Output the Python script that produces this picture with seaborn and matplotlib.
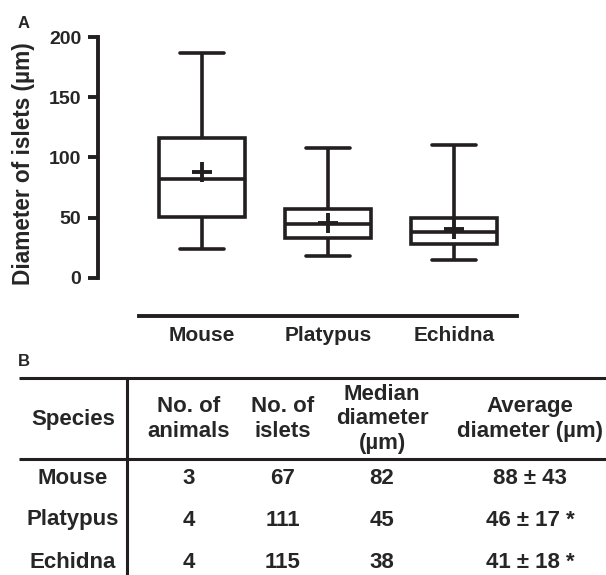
import pandas as pd
import matplotlib
matplotlib.use("Agg")
import matplotlib.pyplot as plt
import seaborn as sns

# values
species = ["Mouse", "Platypus", "Echidna"]
d_min = [24, 18, 15]
d_q1 = [51, 33, 28]
d_median = [82, 45, 38]
d_q3 = [116, 57, 50]
d_max = [187, 108, 110]
d_mean = [88, 46, 41]
d_sd = [43, 17, 18]
n_animals = [3, 4, 4]
n_islets = [67, 111, 115]
signif = ["", " *", " *"]

headers = ["Species", "No. of\nanimals", "No. of\nislets",
           "Median\ndiameter\n(µm)", "Average\ndiameter (µm)"]

sns.set_style("ticks")
plt.rcParams["font.family"] = ["Liberation Sans", "DejaVu Sans"]
plt.rcParams["font.weight"] = "bold"
ink = "#231f20"

# five values per species -> quartiles land exactly on the read values
rows = []
for i, sp in enumerate(species):
    for v in [d_min[i], d_q1[i], d_median[i], d_q3[i], d_max[i]]:
        rows.append({"species": sp, "diameter": v})
box_df = pd.DataFrame(rows)
mean_df = pd.DataFrame({"species": species, "mean": d_mean})

fig = plt.figure(figsize=(6.06, 5.75), dpi=100)
ax = fig.add_axes([139 / 606, 1 - 278 / 575, 378 / 606, 241 / 575])

sns.boxplot(data=box_df, x="species", y="diameter", order=species,
            whis=(0, 100), width=0.69, color="white", linecolor=ink,
            linewidth=2.6, fliersize=0, ax=ax)
sns.pointplot(data=mean_df, x="species", y="mean", order=species,
              color=ink, markers="+", linestyle="none",
              markersize=14, markeredgewidth=2.8, errorbar=None, ax=ax)

ax.set_xlim(-0.5, 2.5)
ax.set_ylim(0, 200)
ax.set_yticks([0, 50, 100, 150, 200])
ax.set_xlabel("")
ax.set_ylabel("Diameter of islets (µm)", fontsize=16.3, fontweight="bold")
ax.yaxis.set_label_coords(-0.275, 0.475)
sns.despine(ax=ax)
# spines pushed outward (points): 41 px left, 38 px down
ax.spines["left"].set_position(("outward", 29.5))
ax.spines["bottom"].set_position(("outward", 27.4))
for s in ["left", "bottom"]:
    ax.spines[s].set_linewidth(2.8)
    ax.spines[s].set_color(ink)
ax.tick_params(axis="y", length=7, width=2.8, pad=5, labelsize=14,
               color=ink)
ax.tick_params(axis="x", length=0, pad=7, labelsize=15)
for lab in ax.get_xticklabels() + ax.get_yticklabels():
    lab.set_fontweight("bold")

fig.text(24 / 606, 1 - 24 / 575, "A", ha="center", va="center",
         fontsize=12, fontweight="bold")
fig.text(24 / 606, 1 - 362 / 575, "B", ha="center", va="center",
         fontsize=12, fontweight="bold")

# table (B)
tab = fig.add_axes([0, 0, 1, 200 / 575])
tab.set_xlim(0, 606)
tab.set_ylim(575, 375)
tab.axis("off")
col_x = [73, 189, 283, 382, 530]
tab.plot([19, 606], [378, 378], color=ink, lw=2.2, solid_capstyle="butt")
tab.plot([19, 606], [459, 459], color=ink, lw=2.2, solid_capstyle="butt")
tab.plot([127, 127], [378, 575], color=ink, lw=2.2, solid_capstyle="butt")

for x, h in zip(col_x, headers):
    tab.text(x, 419, h, ha="center", va="center", fontsize=16,
             fontweight="bold", linespacing=1.25)

row_y = [479, 520, 562]
for i, sp in enumerate(species):
    cells = [sp, str(n_animals[i]), str(n_islets[i]), str(d_median[i]),
             f"{d_mean[i]} ± {d_sd[i]}{signif[i]}"]
    for x, c in zip(col_x, cells):
        tab.text(x, row_y[i], c, ha="center", va="center", fontsize=16,
                 fontweight="bold")

fig.savefig("out.png", dpi=100)
